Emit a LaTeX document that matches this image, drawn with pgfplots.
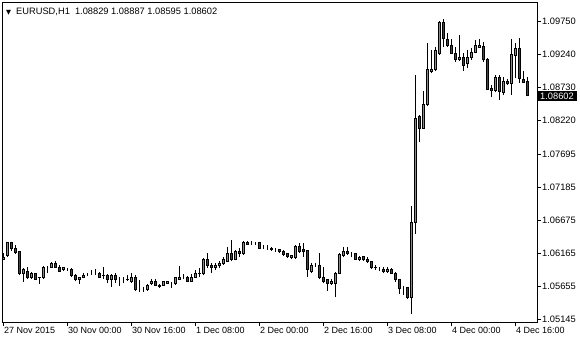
\documentclass[border=0pt]{standalone}
\usepackage{pgfplots}
\pgfplotsset{compat=1.18}
\usepackage{pgfplotstable}
\usepackage{fontspec}
\setmainfont{Liberation Sans}
\newfontfamily\dejavu{DejaVu Sans}
\definecolor{bull}{RGB}{0,235,0}
\definecolor{bear}{RGB}{225,0,0}

\pgfplotstableread{
i O H L C
0 1.06074 1.06167 1.06059 1.06105
1 1.06121 1.06337 1.06105 1.06322
2 1.06322 1.06322 1.06198 1.06229
3 1.06229 1.06291 1.06152 1.06167
4 1.06183 1.06198 1.05826 1.05842
5 1.05842 1.05935 1.05718 1.05904
6 1.05888 1.05950 1.05764 1.05780
7 1.05780 1.05873 1.05764 1.05857
8 1.05842 1.05857 1.05749 1.05764
9 1.05780 1.05795 1.05687 1.05785
10 1.05780 1.05966 1.05764 1.05950
11 1.05950 1.05966 1.05857 1.05950
12 1.05950 1.06028 1.05935 1.05997
13 1.05997 1.06043 1.05935 1.05950
14 1.05950 1.05981 1.05873 1.05888
15 1.05904 1.05950 1.05888 1.05935
16 1.05919 1.05935 1.05888 1.05919
17 1.05919 1.05935 1.05795 1.05811
18 1.05826 1.05842 1.05733 1.05749
19 1.05749 1.05795 1.05687 1.05795
20 1.05795 1.05857 1.05780 1.05826
21 1.05842 1.05857 1.05811 1.05842
22 1.05857 1.05904 1.05826 1.05857
23 1.05857 1.05919 1.05826 1.05857
24 1.05857 1.05873 1.05780 1.05795
25 1.05811 1.05950 1.05764 1.05826
26 1.05826 1.05842 1.05702 1.05749
27 1.05749 1.05842 1.05641 1.05811
28 1.05811 1.05857 1.05702 1.05749
29 1.05764 1.05795 1.05656 1.05764
30 1.05749 1.05795 1.05702 1.05749
31 1.05749 1.05826 1.05733 1.05764
32 1.05733 1.05857 1.05702 1.05795
33 1.05795 1.05826 1.05579 1.05594
34 1.05594 1.05749 1.05563 1.05594
35 1.05594 1.05641 1.05563 1.05594
36 1.05594 1.05687 1.05579 1.05671
37 1.05687 1.05764 1.05671 1.05733
38 1.05733 1.05764 1.05656 1.05671
39 1.05671 1.05687 1.05625 1.05641
40 1.05671 1.05718 1.05656 1.05718
41 1.05702 1.05733 1.05687 1.05718
42 1.05702 1.05718 1.05625 1.05702
43 1.05687 1.05795 1.05671 1.05780
44 1.05764 1.05966 1.05749 1.05795
45 1.05795 1.05842 1.05764 1.05795
46 1.05795 1.05811 1.05718 1.05733
47 1.05733 1.05842 1.05718 1.05795
48 1.05795 1.05904 1.05780 1.05857
49 1.05842 1.05935 1.05795 1.05857
50 1.05842 1.06090 1.05826 1.06074
51 1.06074 1.06167 1.05935 1.05981
52 1.05981 1.06012 1.05857 1.05935
53 1.05935 1.06012 1.05904 1.05981
54 1.05966 1.06043 1.05935 1.06012
55 1.05997 1.06105 1.05981 1.06074
56 1.06043 1.06260 1.06028 1.06152
57 1.06152 1.06368 1.06043 1.06059
58 1.06074 1.06214 1.06059 1.06183
59 1.06183 1.06244 1.06105 1.06152
60 1.06152 1.06353 1.06136 1.06337
61 1.06337 1.06353 1.06291 1.06306
62 1.06322 1.06353 1.06291 1.06322
63 1.06322 1.06337 1.06291 1.06322
64 1.06322 1.06337 1.06229 1.06244
65 1.06260 1.06291 1.06229 1.06260
66 1.06260 1.06291 1.06214 1.06260
67 1.06244 1.06260 1.06198 1.06214
68 1.06214 1.06244 1.06183 1.06214
69 1.06214 1.06229 1.06167 1.06183
70 1.06183 1.06214 1.06121 1.06136
71 1.06152 1.06167 1.06090 1.06105
72 1.06090 1.06136 1.06074 1.06121
73 1.06090 1.06291 1.06074 1.06260
74 1.06260 1.06322 1.06167 1.06183
75 1.06214 1.06322 1.06105 1.06183
76 1.06198 1.06214 1.05795 1.05904
77 1.05888 1.06012 1.05857 1.05966
78 1.05981 1.06012 1.05950 1.05981
79 1.05981 1.06167 1.05764 1.05795
80 1.05795 1.05950 1.05702 1.05733
81 1.05749 1.05764 1.05579 1.05702
82 1.05687 1.05764 1.05671 1.05733
83 1.05702 1.05873 1.05486 1.05857
84 1.05857 1.06167 1.05842 1.06136
85 1.06121 1.06260 1.06105 1.06183
86 1.06183 1.06260 1.06136 1.06152
87 1.06152 1.06183 1.06105 1.06152
88 1.06152 1.06167 1.06059 1.06074
89 1.06074 1.06121 1.06043 1.06105
90 1.06105 1.06121 1.06043 1.06059
91 1.06074 1.06105 1.06012 1.06028
92 1.06028 1.06043 1.05919 1.05950
93 1.05950 1.05981 1.05904 1.05935
94 1.05935 1.05950 1.05888 1.05935
95 1.05919 1.05950 1.05857 1.05873
96 1.05873 1.05950 1.05857 1.05919
97 1.05919 1.05935 1.05842 1.05857
98 1.05857 1.05873 1.05718 1.05749
99 1.05749 1.05764 1.05532 1.05610
100 1.05625 1.05656 1.05517 1.05625
101 1.05625 1.05641 1.05455 1.05470
102 1.05470 1.06895 1.05222 1.06647
103 1.06647 1.08924 1.06461 1.08258
104 1.08274 1.08305 1.07886 1.08103
105 1.08103 1.08676 1.08088 1.08475
106 1.08460 1.09420 1.08444 1.09002
107 1.08971 1.09311 1.08955 1.09002
108 1.09002 1.09358 1.08986 1.09311
109 1.09265 1.09761 1.09234 1.09745
110 1.09745 1.09792 1.09358 1.09497
111 1.09482 1.09575 1.09358 1.09389
112 1.09389 1.09482 1.09249 1.09265
113 1.09265 1.09358 1.09126 1.09157
114 1.09157 1.09544 1.09141 1.09188
115 1.09188 1.09265 1.08986 1.09079
116 1.09095 1.09311 1.09033 1.09188
117 1.09188 1.09342 1.09157 1.09280
118 1.09280 1.09466 1.09265 1.09389
119 1.09358 1.09482 1.09342 1.09389
120 1.09373 1.09435 1.09126 1.09172
121 1.09172 1.09188 1.08692 1.08707
122 1.08723 1.08769 1.08583 1.08692
123 1.08692 1.08924 1.08661 1.08893
124 1.08893 1.08924 1.08537 1.08676
125 1.08661 1.08893 1.08614 1.08831
126 1.08831 1.08862 1.08769 1.08800
127 1.08800 1.09482 1.08614 1.09249
128 1.09234 1.09420 1.08878 1.09342
129 1.09342 1.09497 1.08800 1.08878
130 1.08862 1.08986 1.08800 1.08816
131 1.08829 1.08887 1.08595 1.08602
}\data

\pgfplotsset{candleaxis/.style={
  scale only axis, width=535pt, height=319pt,
  at={(0pt,0pt)}, anchor=south west,
  xmin=-0.25, xmax=133.5, ymin=1.05098, ymax=1.10040}}

\begin{document}
\begin{tikzpicture}
\begin{axis}[candleaxis,
  axis line style={black, line width=1pt},
  tick align=outside, major tick length=4pt,
  tick style={black, line width=0.8pt},
  xtick pos=left, ytick pos=right, yticklabel pos=right,
  xtick={0,16,32,48,64,80,96,112,128},
  xticklabels={{27 Nov 2015},{30 Nov 00:00},{30 Nov 16:00},{1 Dec 08:00},{2 Dec 00:00},{2 Dec 16:00},{3 Dec 08:00},{4 Dec 00:00},{4 Dec 16:00}},
  xticklabel style={anchor=north west, inner sep=1pt, font=\fontsize{9}{10}\selectfont},
  ytick={1.05145,1.05655,1.06165,1.06675,1.07185,1.07695,1.08220,1.08730,1.09240,1.09750},
  yticklabels={{1.05145},{1.05655},{1.06165},{1.06675},{1.07185},{1.07695},{1.08220},{1.08730},{1.09240},{1.09750}},
  yticklabel style={anchor=west, inner sep=1pt, font=\fontsize{9.3}{10}\selectfont},
  extra y ticks={1.08602},
  extra y tick labels={{1.08602}},
  extra y tick style={yticklabel style={fill=black, text=white, inner xsep=3pt, inner ysep=2pt, xshift=-4pt}},
]
\addplot[draw=none, forget plot, error bars/.cd, y dir=plus, y explicit, error mark=none,
  error bar style={draw=black, solid, line width=1pt}]
  table[x=i, y=L, y error expr=\thisrow{H}-\thisrow{L}] {\data};
\node[anchor=base west, inner sep=0pt, font=\fontsize{9.3}{10}\selectfont]
  at ([xshift=4pt, yshift=-11.4pt]rel axis cs:0,1)
  {{\dejavu\fontsize{6.5}{7}\selectfont ▼}\hspace{5pt}EURUSD,H1\hspace{0.55em}1.08829 1.08887 1.08595 1.08602};
\end{axis}
\begin{axis}[candleaxis, hide axis, ybar stacked, bar width=2pt]
\addplot[draw=none, fill=none] table[x=i, y expr={min(\thisrow{O},\thisrow{C})}] {\data};
\addplot[draw=black, line width=1pt, fill=bull] table[x=i, y expr={max(\thisrow{C}-\thisrow{O},0)}] {\data};
\addplot[draw=black, line width=1pt, fill=bear] table[x=i, y expr={max(\thisrow{O}-\thisrow{C},0)}] {\data};
\end{axis}
\pgfresetboundingbox
\path[use as bounding box] (-2pt,-18pt) rectangle (578pt,322pt);
\end{tikzpicture}
\end{document}
